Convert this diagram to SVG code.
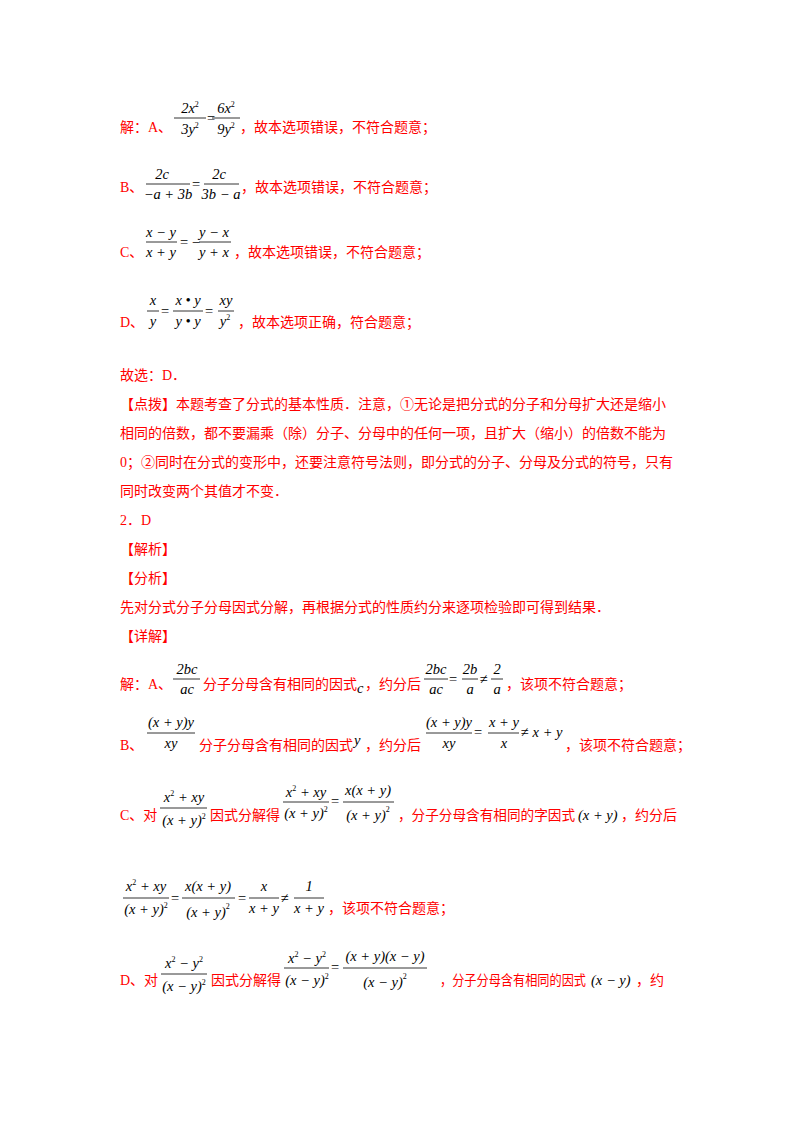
<svg xmlns="http://www.w3.org/2000/svg" width="800" height="1132" viewBox="0 0 800 1132">
<style>
.t{font-family:"Liberation Serif","Noto Sans CJK SC",serif;font-size:14px;fill:#ff0000}
.m{font-family:"Liberation Serif",serif;font-size:14.5px;fill:#000;font-style:italic}
.n{font-style:normal}
.s{font-size:8px;font-style:normal}
.c{text-anchor:middle}
line{stroke:#000;stroke-width:0.8}
</style>
<rect width="800" height="1132" fill="#fff"/>
<g id="lineA">
<text class="t" x="120" y="132">解：A、</text>
<text class="m c" x="190" y="113">2x<tspan class="s" dy="-6">2</tspan></text><line x1="174" y1="118" x2="206" y2="118"/>
<text class="m c" x="190" y="134">3y<tspan class="s" dy="-6">2</tspan></text>
<text class="m n" x="207" y="123">=</text>
<text class="m c" x="226" y="113">6x<tspan class="s" dy="-6">2</tspan></text><line x1="212" y1="118" x2="240" y2="118"/>
<text class="m c" x="226" y="134">9y<tspan class="s" dy="-6">2</tspan></text>
<text class="t" x="240" y="132">，故本选项错误，不符合题意；</text>
</g>
<g id="lineB">
<text class="t" x="120" y="192">B、</text>
<text class="m c" x="162" y="179">2c</text><line x1="146" y1="184" x2="190" y2="184"/>
<text class="m c" x="168" y="199">−a + 3b</text>
<text class="m n" x="192" y="189">=</text>
<text class="m c" x="219" y="179">2c</text><line x1="204" y1="184" x2="239" y2="184"/>
<text class="m c" x="221" y="199">3b − a</text>
<text class="t" x="241" y="192">，故本选项错误，不符合题意；</text>
</g>
<g id="lineC">
<text class="t" x="120" y="257">C、</text>
<text class="m c" x="161" y="237">x − y</text><line x1="146" y1="242" x2="177" y2="242"/>
<text class="m c" x="161" y="257">x + y</text>
<text class="m n" x="180" y="247">= −</text>
<text class="m c" x="214" y="237">y − x</text><line x1="199" y1="242" x2="231" y2="242"/>
<text class="m c" x="214" y="257">y + x</text>
<text class="t" x="234" y="257">，故本选项错误，不符合题意；</text>
</g>
<g id="lineD">
<text class="t" x="120" y="327">D、</text>
<text class="m c" x="153" y="305">x</text><line x1="147" y1="311" x2="159" y2="311"/>
<text class="m c" x="153" y="326">y</text>
<text class="m n" x="161" y="316">=</text>
<text class="m c" x="188" y="305">x • y</text><line x1="173" y1="311" x2="203" y2="311"/>
<text class="m c" x="188" y="326">y • y</text>
<text class="m n" x="205" y="316">=</text>
<text class="m c" x="226" y="305">xy</text><line x1="218" y1="311" x2="234" y2="311"/>
<text class="m c" x="225" y="326">y<tspan class="s" dy="-6">2</tspan></text>
<text class="t" x="238" y="327">，故本选项正确，符合题意；</text>
</g>
<g id="para">
<text class="t" x="120" y="380">故选：D．</text>
<text class="t" x="120" y="409">【点拨】本题考查了分式的基本性质．注意，①无论是把分式的分子和分母扩大还是缩小</text>
<text class="t" x="120" y="438">相同的倍数，都不要漏乘（除）分子、分母中的任何一项，且扩大（缩小）的倍数不能为</text>
<text class="t" x="120" y="467">0；②同时在分式的变形中，还要注意符号法则，即分式的分子、分母及分式的符号，只有</text>
<text class="t" x="120" y="496">同时改变两个其值才不变．</text>
<text class="t" x="120" y="525">2．D</text>
<text class="t" x="120" y="554">【解析】</text>
<text class="t" x="120" y="583">【分析】</text>
<text class="t" x="120" y="612">先对分式分子分母因式分解，再根据分式的性质约分来逐项检验即可得到结果．</text>
<text class="t" x="120" y="641">【详解】</text>
</g>
<g id="row2A">
<text class="t" x="120" y="689">解：A、</text>
<text class="m c" x="187" y="674">2bc</text><line x1="173" y1="679" x2="200" y2="679"/>
<text class="m c" x="187" y="694">ac</text>
<text class="t" x="203" y="689">分子分母含有相同的因式</text>
<text class="m" x="357" y="693">c</text>
<text class="t" x="365" y="689">，约分后</text>
<text class="m c" x="436" y="674">2bc</text><line x1="424" y1="679" x2="448" y2="679"/>
<text class="m c" x="436" y="694">ac</text>
<text class="m n" x="449" y="684">=</text>
<text class="m c" x="470" y="674">2b</text><line x1="462" y1="679" x2="478" y2="679"/>
<text class="m c" x="470" y="694">a</text>
<text class="m n" x="480" y="684">≠</text>
<text class="m c" x="497" y="674">2</text><line x1="491" y1="679" x2="503" y2="679"/>
<text class="m c" x="497" y="694">a</text>
<text class="t" x="506" y="689">，该项不符合题意；</text>
</g>
<g id="row2B">
<text class="t" x="120" y="750">B、</text>
<text class="m c" x="171" y="727">(x + y)y</text><line x1="147" y1="733" x2="195" y2="733"/>
<text class="m c" x="171" y="748">xy</text>
<text class="t" x="199" y="750">分子分母含有相同的因式</text>
<text class="m" x="354" y="745">y</text>
<text class="t" x="365" y="750">，约分后</text>
<text class="m c" x="449" y="727">(x + y)y</text><line x1="426" y1="733" x2="472" y2="733"/>
<text class="m c" x="449" y="748">xy</text>
<text class="m n" x="474" y="737">=</text>
<text class="m c" x="504" y="727">x + y</text><line x1="488" y1="733" x2="519" y2="733"/>
<text class="m c" x="504" y="748">x</text>
<text class="m" x="521" y="737"><tspan class="n">≠</tspan> x + y</text>
<text class="t" x="565" y="750">，该项不符合题意；</text>
</g>
<g id="row2C">
<text class="t" x="120" y="820">C、对</text>
<text class="m c" x="184" y="802">x<tspan class="s" dy="-6">2</tspan><tspan dy="6"> + xy</tspan></text><line x1="160" y1="808" x2="207" y2="808"/>
<text class="m c" x="184" y="825">(x + y)<tspan class="s" dy="-6">2</tspan></text>
<text class="t" x="210" y="820">因式分解得</text>
<text class="m c" x="306" y="797">x<tspan class="s" dy="-6">2</tspan><tspan dy="6"> + xy</tspan></text><line x1="283" y1="802" x2="329" y2="802"/>
<text class="m c" x="306" y="818">(x + y)<tspan class="s" dy="-6">2</tspan></text>
<text class="m n" x="331" y="806">=</text>
<text class="m c" x="368" y="795">x(x + y)</text><line x1="343" y1="802" x2="394" y2="802"/>
<text class="m c" x="368" y="820">(x + y)<tspan class="s" dy="-8">2</tspan></text>
<text class="t" x="398" y="820" textLength="177" lengthAdjust="spacingAndGlyphs">，分子分母含有相同的字因式</text>
<text class="m" x="578" y="820">(x + y)</text>
<text class="t" x="621" y="820">，约分后</text>
</g>
<g id="row2C2">
<text class="m c" x="146" y="891">x<tspan class="s" dy="-6">2</tspan><tspan dy="6"> + xy</tspan></text><line x1="123" y1="898" x2="169" y2="898"/>
<text class="m c" x="146" y="914">(x + y)<tspan class="s" dy="-6">2</tspan></text>
<text class="m n" x="171" y="903">=</text>
<text class="m c" x="208" y="891">x(x + y)</text><line x1="182" y1="898" x2="235" y2="898"/>
<text class="m c" x="208" y="917">(x + y)<tspan class="s" dy="-8">2</tspan></text>
<text class="m n" x="238" y="903">=</text>
<text class="m c" x="264" y="891">x</text><line x1="249" y1="898" x2="279" y2="898"/>
<text class="m c" x="264" y="913">x + y</text>
<text class="m n" x="281" y="903">≠</text>
<text class="m c" x="309" y="891">1</text><line x1="294" y1="898" x2="324" y2="898"/>
<text class="m c" x="309" y="913">x + y</text>
<text class="t" x="328" y="913">，该项不符合题意；</text>
</g>
<g id="row2D">
<text class="t" x="120" y="985">D、对</text>
<text class="m c" x="184" y="968">x<tspan class="s" dy="-6">2</tspan><tspan dy="6"> − y</tspan><tspan class="s" dy="-6">2</tspan></text><line x1="161" y1="974" x2="207" y2="974"/>
<text class="m c" x="184" y="991">(x − y)<tspan class="s" dy="-6">2</tspan></text>
<text class="t" x="211" y="985">因式分解得</text>
<text class="m c" x="307" y="963">x<tspan class="s" dy="-6">2</tspan><tspan dy="6"> − y</tspan><tspan class="s" dy="-6">2</tspan></text><line x1="284" y1="968" x2="329" y2="968"/>
<text class="m c" x="307" y="985">(x − y)<tspan class="s" dy="-6">2</tspan></text>
<text class="m n" x="331" y="972">=</text>
<text class="m c" x="385" y="961">(x + y)(x − y)</text><line x1="343" y1="968" x2="427" y2="968"/>
<text class="m c" x="385" y="987">(x − y)<tspan class="s" dy="-8">2</tspan></text>
<text class="t" x="440" y="985" textLength="146" lengthAdjust="spacingAndGlyphs">，分子分母含有相同的因式</text>
<text class="m" x="591" y="985">(x − y)</text>
<text class="t" x="636" y="985">，约</text>
</g>
</svg>
